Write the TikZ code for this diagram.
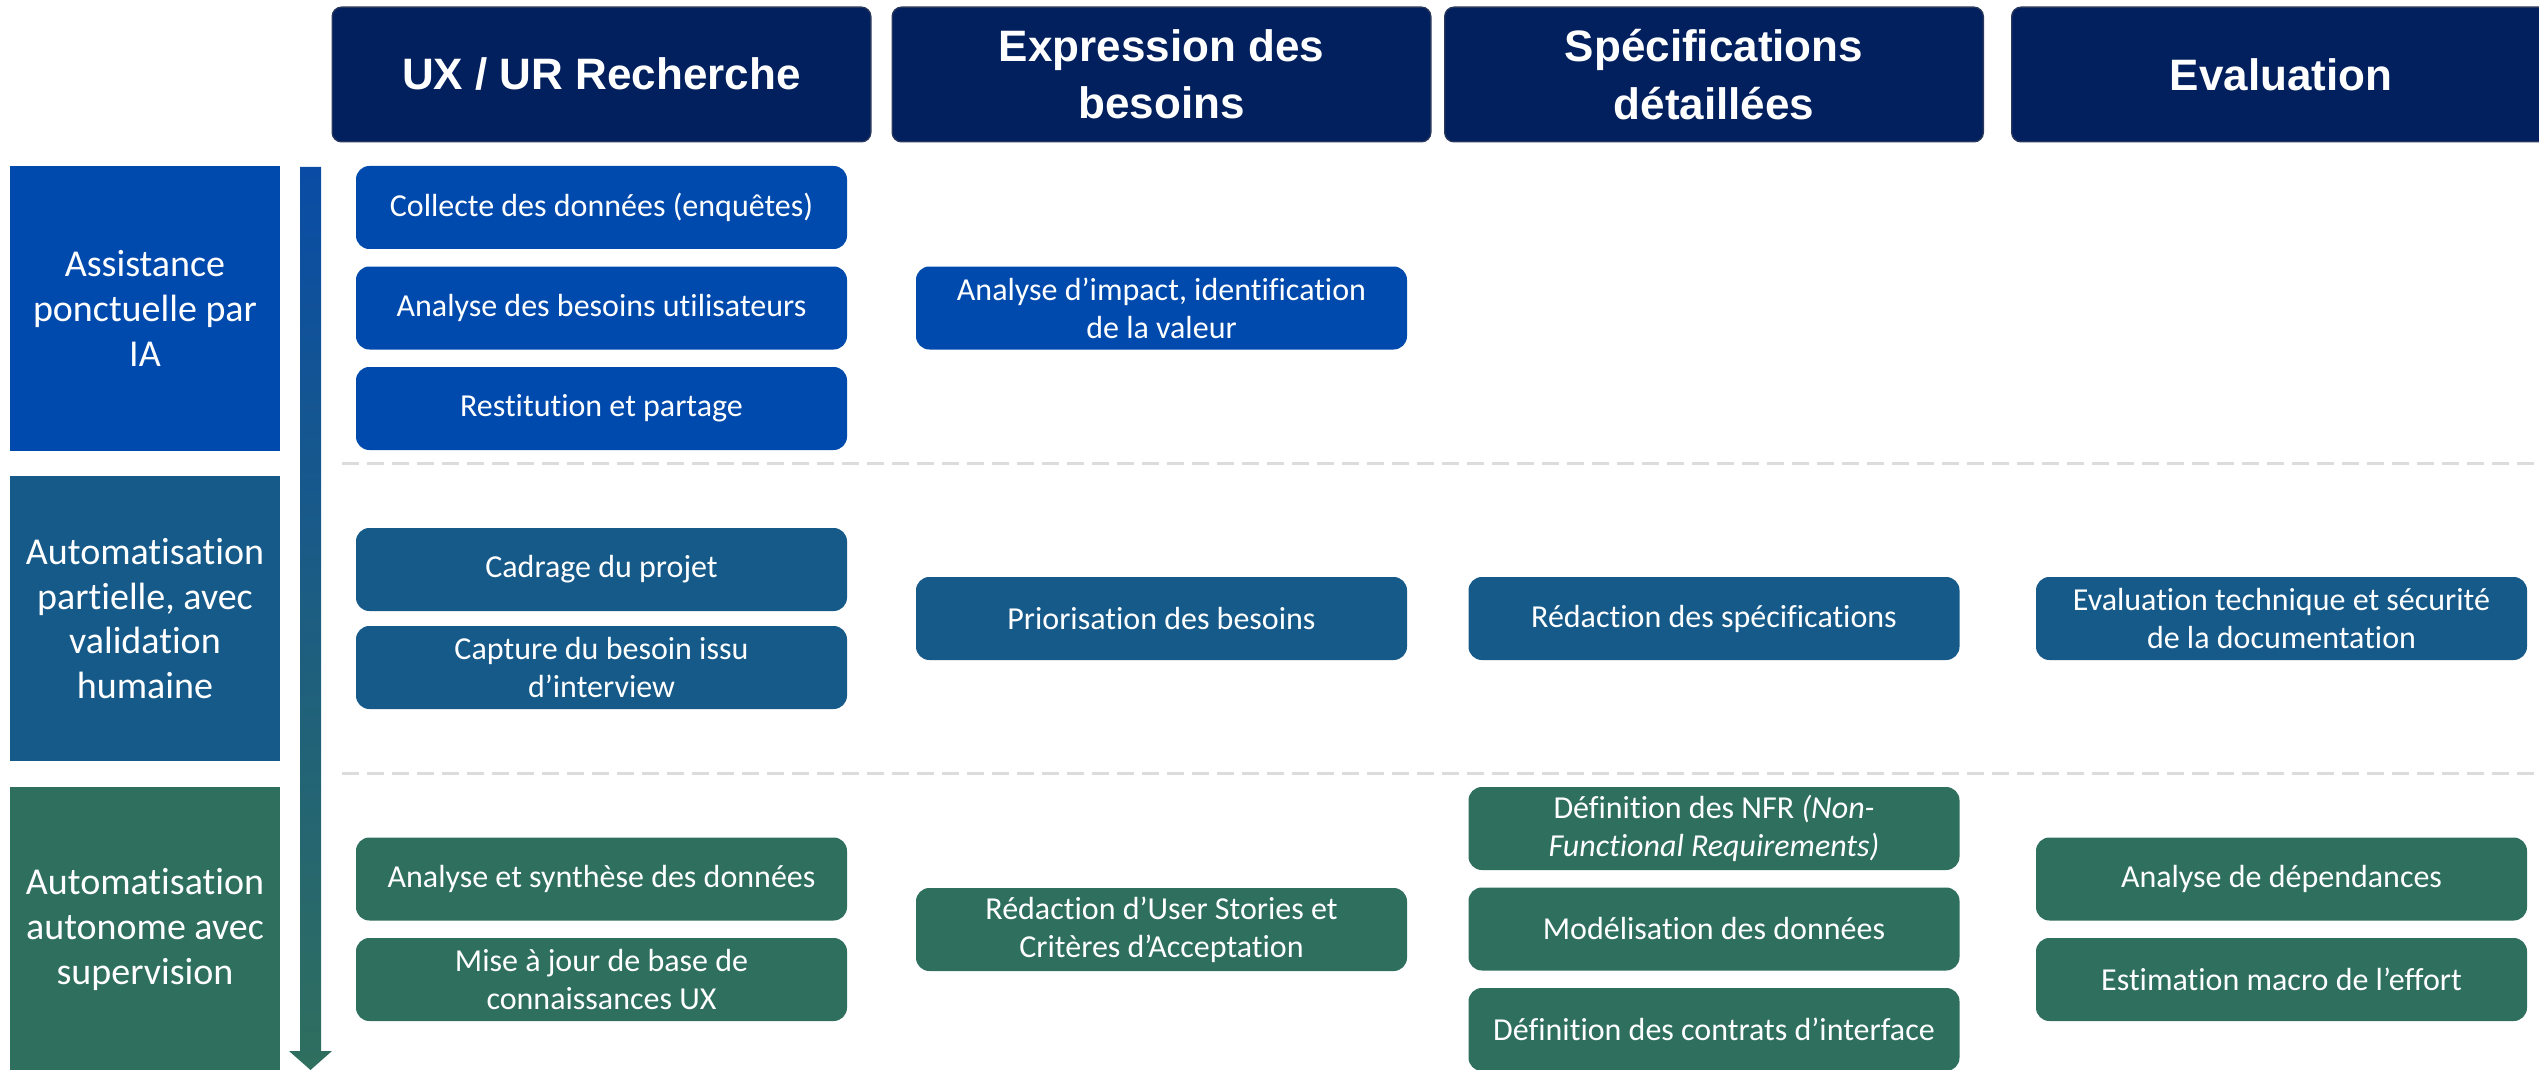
\documentclass[tikz,border=0pt]{standalone}
\usepackage{fontspec}
\setmainfont{Carlito}[RawFeature={-liga;-clig;-calt;-dlig}]
\newfontfamily\headfont{Liberation Sans}
\usetikzlibrary{calc}
\definecolor{navy}{RGB}{2,32,94}
\definecolor{navyedge}{RGB}{40,55,92}
\definecolor{rowA}{RGB}{0,74,173}
\definecolor{rowB}{RGB}{22,90,138}
\definecolor{rowC}{RGB}{47,111,94}
\definecolor{dashgray}{RGB}{220,220,220}
\definecolor{axtopcol}{RGB}{10,76,165}
\definecolor{axmidcol}{RGB}{26,92,128}
\definecolor{axbotcol}{RGB}{47,111,94}
\begin{document}
\begin{tikzpicture}[x=0.75pt,y=-0.75pt,
  headbox/.style={rounded corners=7pt, fill=navy, draw=navyedge, line width=1pt,
    minimum width=404pt, minimum height=101pt, inner sep=0pt, align=center,
    text=white, font=\headfont\bfseries\fontsize{33}{43}\selectfont},
  cellbox/.style={rounded corners=10pt, minimum width=368.25pt, minimum height=62.25pt,
    inner sep=0pt, align=center, text=white, font=\fontsize{24}{28.5}\selectfont},
  levelbox/.style={minimum width=202.5pt, minimum height=213.75pt, inner sep=0pt,
    align=center, text=white, font=\fontsize{28.5}{33.5}\selectfont},
  sepline/.style={dashgray, line width=2.25pt, dash pattern=on 12.75pt off 6pt}]
\useasboundingbox (0,0) rectangle (2539,1070);
\begin{scope}
\clip (0,0) rectangle (2539,1070);
% column headers
\node[headbox] (h1) at (601.5,74.5) {UX / UR Recherche};
\node[headbox] (h2) at (1161.5,74.5) {Expression des\\besoins};
\node[headbox] (h3) at (1714,74.5) {Spécifications\\détaillées};
\node[headbox] (h4) at (2281,74.5) {Evaluation};
% level boxes
\node[levelbox, fill=rowA] (l1) at (145,308.5) {Assistance\\ponctuelle par\\IA};
\node[levelbox, fill=rowB] (l2) at (145,618.5) {Automatisation\\partielle, avec\\validation\\humaine};
\node[levelbox, fill=rowC] (l3) at (145,929.5) {Automatisation\\autonome avec\\supervision};
% axis arrow
\coordinate (axtop) at (310.5,167);
\coordinate (axbot) at (310.5,1070);
\shade[top color=axtopcol, middle color=axmidcol, bottom color=axbotcol]
  ($(axtop)+(-10.5,0)$) -- ($(axtop)+(10.5,0)$) -- ($(axbot)+(10.5,-19)$)
  -- ($(axbot)+(21.5,-19)$) -- (axbot) -- ($(axbot)+(-21.5,-19)$)
  -- ($(axbot)+(-10.5,-19)$) -- cycle;
% separators
\coordinate (s1a) at (342,463);
\coordinate (s1b) at (2539,463);
\coordinate (s2a) at (342,773);
\coordinate (s2b) at (2539,773);
\draw[sepline] (s1a) -- (s1b);
\draw[sepline] (s2a) -- (s2b);
% row 1
\node[cellbox, fill=rowA] (a1) at (601.5,207.5) {Collecte des données (enquêtes)};
\node[cellbox, fill=rowA] (a2) at (601.5,308) {Analyse des besoins utilisateurs};
\node[cellbox, fill=rowA] (a3) at (601.5,408.5) {Restitution et partage};
\node[cellbox, fill=rowA] (a4) at (1161.5,308) {Analyse d’impact, identification\\de la valeur};
% row 2
\node[cellbox, fill=rowB] (b1) at (601.5,569.5) {Cadrage du projet};
\node[cellbox, fill=rowB] (b2) at (601.5,667.5) {Capture du besoin issu\\d’interview};
\node[cellbox, fill=rowB] (b3) at (1161.5,618.5) {Priorisation des besoins};
\node[cellbox, fill=rowB] (b4) at (1714,618.5) {Rédaction des spécifications};
\node[cellbox, fill=rowB] (b5) at (2281.5,618.5) {Evaluation technique et sécurité\\de la documentation};
% row 3
\node[cellbox, fill=rowC] (c1) at (601.5,879) {Analyse et synthèse des données};
\node[cellbox, fill=rowC] (c2) at (601.5,979.5) {Mise à jour de base de\\connaissances UX};
\node[cellbox, fill=rowC] (c3) at (1161.5,929.5) {Rédaction d’User Stories et\\Critères d’Acceptation};
\node[cellbox, fill=rowC] (c4) at (1714,828.5) {Définition des NFR \textit{(Non-}\\\textit{Functional Requirements)}};
\node[cellbox, fill=rowC] (c5) at (1714,929) {Modélisation des données};
\node[cellbox, fill=rowC] (c6) at (1714,1029.5) {Définition des contrats d’interface};
\node[cellbox, fill=rowC] (c7) at (2281.5,879) {Analyse de dépendances};
\node[cellbox, fill=rowC] (c8) at (2281.5,979.5) {Estimation macro de l’effort};
\end{scope}
\end{tikzpicture}
\end{document}
